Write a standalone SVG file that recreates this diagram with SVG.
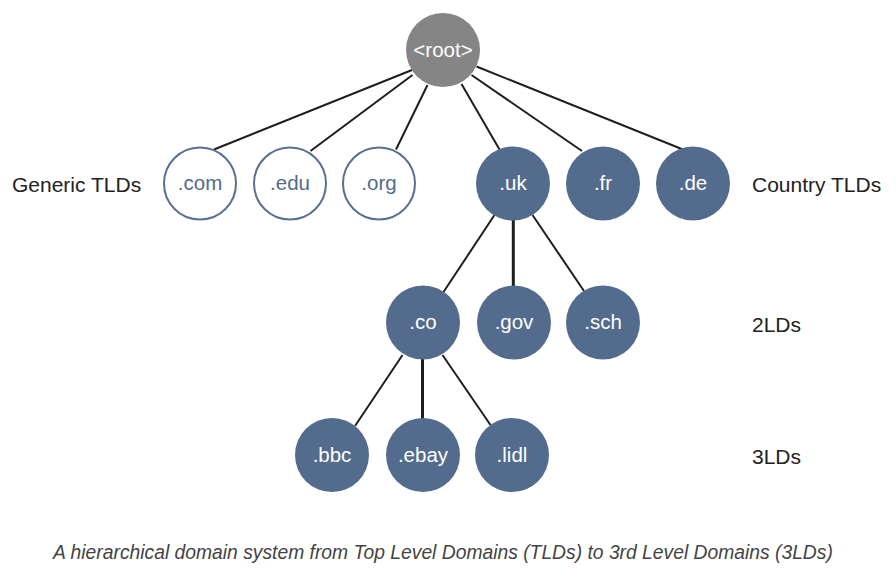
<svg xmlns="http://www.w3.org/2000/svg" width="896" height="573" viewBox="0 0 896 573">
<style>
.edge{stroke:#1e1e1e;stroke-width:2;fill:none}
.v{stroke-width:3}
.n{fill:#536b8c}
.o{fill:#fff;stroke:#5a7090;stroke-width:2}
.r{fill:#858585}
.t{font-family:"Liberation Sans",Arial,sans-serif;font-size:20.5px;text-anchor:middle;fill:#fff}
.to{font-family:"Liberation Sans",Arial,sans-serif;font-size:20.5px;text-anchor:middle;fill:#536b8c}
.lab{font-family:"Liberation Sans",Arial,sans-serif;font-size:21px;fill:#222}
.cap{font-family:"Liberation Sans",Arial,sans-serif;font-size:19.3px;font-style:italic;fill:#444;text-anchor:middle}
</style>
<rect width="896" height="573" fill="#fff"/>
<g id="connectors">
<line class="edge" x1="412" y1="70" x2="214" y2="149.5"/>
<line class="edge" x1="412.5" y1="75" x2="310.5" y2="151"/>
<line class="edge" x1="427.5" y1="85" x2="396" y2="149.5"/>
<line class="edge" x1="461.5" y1="84" x2="499.5" y2="149.5"/>
<line class="edge" x1="471.5" y1="75" x2="582" y2="151"/>
<line class="edge" x1="476.5" y1="66.5" x2="683" y2="149.5"/>
<line class="edge" x1="494.5" y1="215" x2="443.5" y2="292"/>
<line class="edge v" x1="513.3" y1="219" x2="513.3" y2="287"/>
<line class="edge" x1="532.5" y1="215" x2="584" y2="291"/>
<line class="edge" x1="402.5" y1="355" x2="355" y2="426"/>
<line class="edge v" x1="422.5" y1="358" x2="422.5" y2="419"/>
<line class="edge" x1="442.5" y1="355" x2="490.5" y2="425"/>
</g>
<g id="root"><circle class="r" cx="443" cy="50" r="37"/><text class="t" x="443" y="57">&lt;root&gt;</text></g>
<g id="com"><circle class="o" cx="200" cy="183.5" r="36"/><text class="to" x="200" y="190">.com</text></g>
<g id="edu"><circle class="o" cx="290" cy="183.5" r="36"/><text class="to" x="290" y="190">.edu</text></g>
<g id="org"><circle class="o" cx="379" cy="183.5" r="36"/><text class="to" x="379" y="190">.org</text></g>
<g id="uk"><circle class="n" cx="513" cy="183.5" r="37"/><text class="t" x="513" y="190">.uk</text></g>
<g id="fr"><circle class="n" cx="603" cy="183.5" r="37"/><text class="t" x="603" y="190">.fr</text></g>
<g id="de"><circle class="n" cx="693" cy="183.5" r="37"/><text class="t" x="693" y="190">.de</text></g>
<g id="co"><circle class="n" cx="423" cy="322.5" r="37"/><text class="t" x="423" y="329">.co</text></g>
<g id="gov"><circle class="n" cx="514" cy="322.5" r="37"/><text class="t" x="514" y="329">.gov</text></g>
<g id="sch"><circle class="n" cx="603" cy="322.5" r="37"/><text class="t" x="603" y="329">.sch</text></g>
<g id="bbc"><circle class="n" cx="332" cy="455" r="37"/><text class="t" x="332" y="462">.bbc</text></g>
<g id="ebay"><circle class="n" cx="423" cy="455" r="37"/><text class="t" x="423" y="462">.ebay</text></g>
<g id="lidl"><circle class="n" cx="512" cy="455" r="37"/><text class="t" x="512" y="462">.lidl</text></g>
<g id="labels">
<text class="lab" x="12" y="192">Generic TLDs</text>
<text class="lab" x="752" y="192">Country TLDs</text>
<text class="lab" x="752" y="332">2LDs</text>
<text class="lab" x="752" y="464">3LDs</text>
</g>
<text class="cap" x="443" y="559">A hierarchical domain system from Top Level Domains (TLDs) to 3rd Level Domains (3LDs)</text>
</svg>
